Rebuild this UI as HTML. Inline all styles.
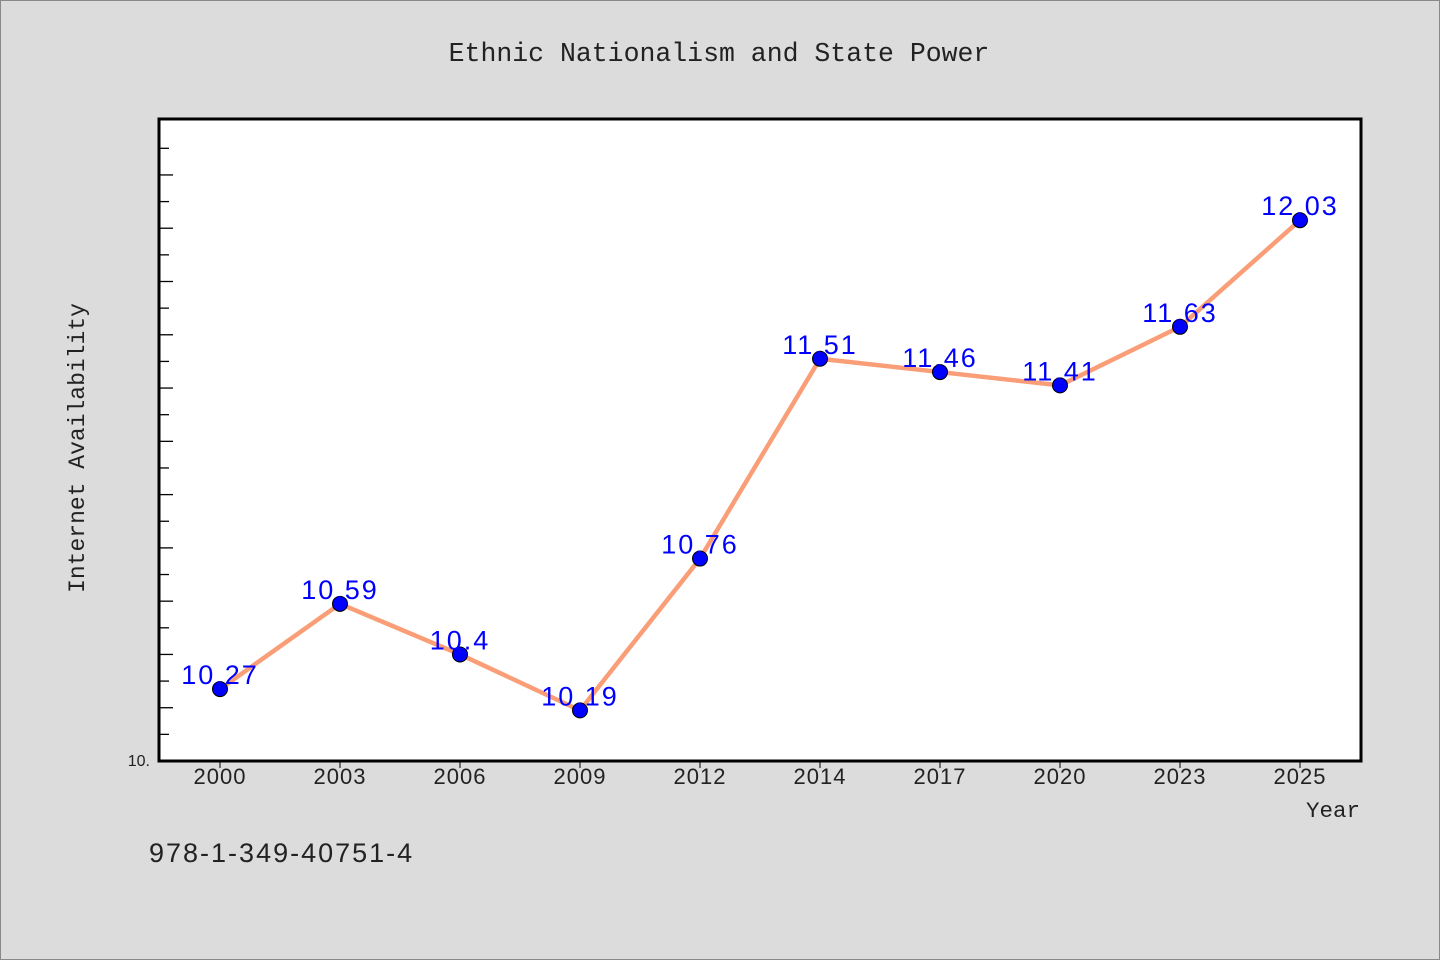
<!DOCTYPE html>
<html><head><meta charset="utf-8"><style>
html,body{margin:0;padding:0;background:#dcdcdc;}
svg{display:block;font-family:"Liberation Sans",sans-serif;}
.mono{font-family:"Liberation Mono",monospace;}
</style></head><body>
<svg id="chart" width="1440" height="960">
<rect x="0.5" y="0.5" width="1439" height="959" fill="#dcdcdc" stroke="#888"/>
<text class="mono" x="719" y="61" text-anchor="middle" font-size="26.5" fill="#222">Ethnic Nationalism and State Power</text>
<rect x="159" y="119" width="1202" height="642" fill="#fff" stroke="#000" stroke-width="3"/>
<g id="ticks"></g>
<g id="xlabels"></g>
<text x="150" y="766" text-anchor="end" font-size="16" fill="#222">10.</text>
<text class="mono" transform="translate(84,448) rotate(-90)" text-anchor="middle" font-size="23" fill="#222">Internet Availability</text>
<text class="mono" x="1360" y="817" text-anchor="end" font-size="22.5" fill="#222">Year</text>
<text x="149" y="862" font-size="27" letter-spacing="2" fill="#222">978-1-349-40751-4</text>
<g id="series"></g>
</svg>
<script>
const categories=["2000","2003","2006","2009","2012","2014","2017","2020","2023","2025"];
const values=[10.27,10.59,10.4,10.19,10.76,11.51,11.46,11.41,11.63,12.03];
const valueLabels=["10.27","10.59","10.4","10.19","10.76","11.51","11.46","11.41","11.63","12.03"];
const yMin=10, yMax=12.41;
const NS="http://www.w3.org/2000/svg";
const x=i=>220+i*(1300-220)/(categories.length-1);
const y=v=>761-(v-yMin)/(yMax-yMin)*642;
function mk(t,a,p){const e=document.createElementNS(NS,t);for(const k in a)e.setAttribute(k,a[k]);p.appendChild(e);return e;}
const tk=document.getElementById('ticks');
for(let k=1;k<=23;k++){const v=yMin+k*0.1;const yy=y(v);
 const l=mk('line',{x1:160,x2:k%2==0?173:169,y1:yy,y2:yy,stroke:'#000','stroke-width':1.3},tk);
 
 }
const xl=document.getElementById('xlabels');
categories.forEach((c,i)=>{
 const l=mk('line',{x1:x(i),x2:x(i),y1:762,y2:768,stroke:'#000','stroke-width':1},xl);
 
 
 const t=mk('text',{x:x(i),y:784,'text-anchor':'middle','font-size':22,'letter-spacing':1,fill:'#222'},xl);
 t.textContent=c;
 
 
});
const s=document.getElementById('series');
const line=mk('polyline',{points:values.map((v,i)=>x(i)+','+y(v)).join(' '),fill:'none',stroke:'#fa9e78','stroke-width':4.5,'stroke-linejoin':'round'},s);


values.forEach((v,i)=>{
 const c=mk('circle',{cx:x(i),cy:y(v),r:7.5,fill:'#0000ff',stroke:'#000','stroke-width':1},s);
 
 
 const t=mk('text',{x:x(i),y:y(v)-5,'text-anchor':'middle','font-size':27,'letter-spacing':2,fill:'#0000ff'},s);
 t.textContent=valueLabels[i];
 
 
});
</script>
</body></html>
